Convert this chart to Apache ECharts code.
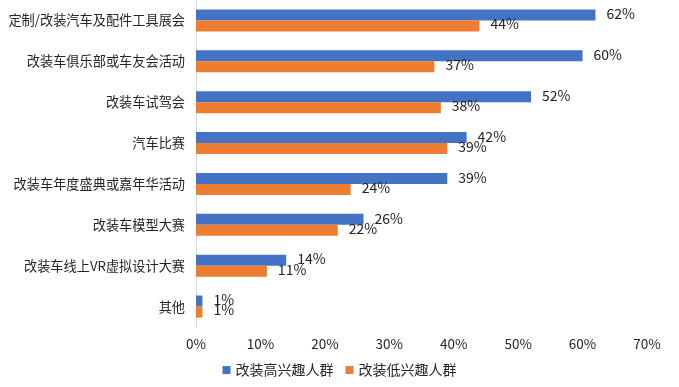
<!DOCTYPE html>
<html><head><meta charset="utf-8">
<script src="https://cdn.jsdelivr.net/npm/echarts@6/dist/echarts.min.js"></script>
<style>html,body{margin:0;padding:0;background:#fff}#c{width:679px;height:387px}</style>
</head><body><div id="c"></div>
<script>
const categories = ['定制/改装汽车及配件工具展会','改装车俱乐部或车友会活动','改装车试驾会','汽车比赛','改装车年度盛典或嘉年华活动','改装车模型大赛','改装车线上VR虚拟设计大赛','其他'];
const seriesNames = ['改装高兴趣人群','改装低兴趣人群'];
const highValues = [62,60,52,42,39,26,14,1];
const lowValues = [44,37,38,39,24,22,11,1];
const xTicks = [0,10,20,30,40,50,60,70];

const font = '"Noto Sans CJK SC","Noto Sans",sans-serif';
const chart = echarts.init(document.getElementById('c'));
chart.setOption({
  animation:false,
  textStyle:{fontFamily:font},
  legend:{bottom:5,left:'center',itemWidth:8,itemHeight:8,itemGap:12,icon:'rect',
    textStyle:{fontSize:14,color:'#262626',fontFamily:font},data:seriesNames},
  grid:{left:196,right:32,top:0,height:327,containLabel:false},
  xAxis:{type:'value',min:xTicks[0],max:xTicks[xTicks.length-1],interval:10,
    axisLine:{show:false},axisTick:{show:false},splitLine:{show:false},
    axisLabel:{formatter:'{value}%',fontSize:13.5,color:'#262626',margin:10,fontFamily:font}},
  yAxis:{type:'category',data:categories,inverse:true,
    axisLine:{show:true,lineStyle:{color:'#d9d9d9',width:1}},axisTick:{show:false},
    axisLabel:{fontSize:13.2,color:'#262626',margin:11,fontFamily:font}},
  series:[
    {name:seriesNames[0],type:'bar',data:highValues,barGap:'0%',barCategoryGap:'46%',
      itemStyle:{color:'#4472C4'},
      label:{show:true,position:'right',distance:11,formatter:'{c}%',fontSize:14,color:'#222',offset:[0,-1],fontFamily:font}},
    {name:seriesNames[1],type:'bar',data:lowValues,
      itemStyle:{color:'#ED7D31'},
      label:{show:true,position:'right',distance:11,formatter:'{c}%',fontSize:14,color:'#222',offset:[0,-2],fontFamily:font}}
  ]
});
</script></body></html>
